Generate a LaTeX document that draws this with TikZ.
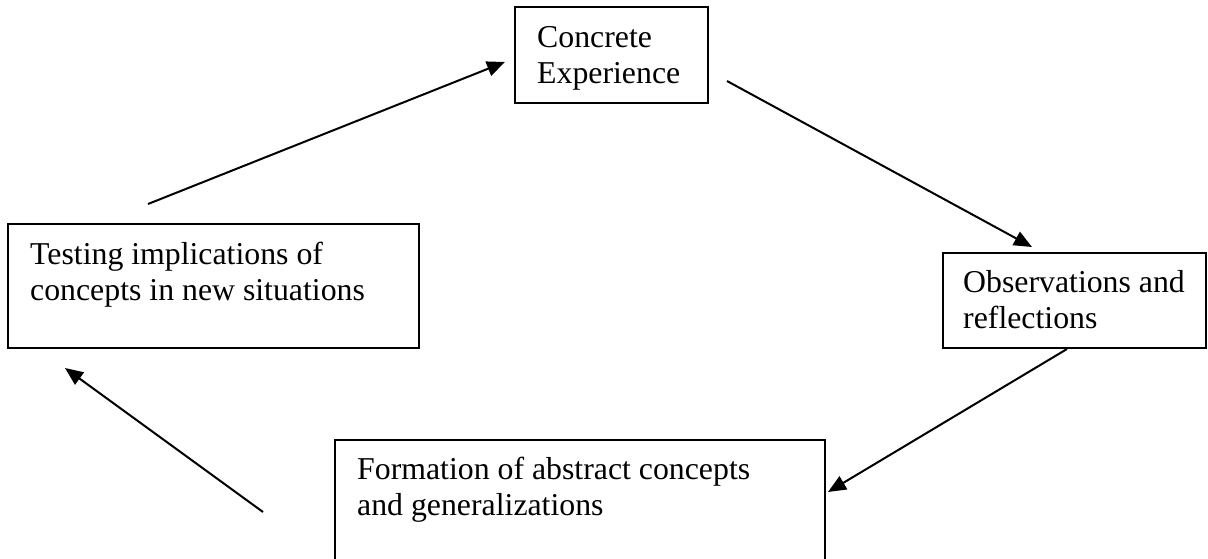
\documentclass[tikz,border=0pt]{standalone}
\usepackage{fontspec}
\setmainfont{Liberation Serif}
\usetikzlibrary{arrows.meta}
\begin{document}
\begin{tikzpicture}[x=1pt,y=-1pt,
  boxstyle/.style={draw=black, line width=2pt, inner sep=0pt},
  txt/.style={anchor=base west, align=left, inner sep=0pt, font=\fontsize{31.8}{35.5}\selectfont},
  arr/.style={line width=2pt, -{Triangle[length=18pt,width=15pt]}}]
\useasboundingbox (0,0) rectangle (1208,558);
% boxes
\draw[boxstyle] (515,7) rectangle (708,103);
\node[boxstyle, draw=none] (ce) at (611.5,55) {};
\draw[boxstyle] (8,224) rectangle (419,348);
\node[boxstyle, draw=none] (ti) at (213.5,286) {};
\draw[boxstyle] (943,253) rectangle (1206,348);
\node[boxstyle, draw=none] (ob) at (1074.5,300) {};
\draw[boxstyle] (335,440) rectangle (825,562);
\node[boxstyle, draw=none] (fo) at (580,500) {};
% texts (anchored at the baseline of the last line)
\node[txt] (cet) at (537,83) {Concrete\\Experience};
\node[txt] (tit) at (30,300) {Testing implications of\\concepts in new situations};
\node[txt] (obt) at (963,328) {Observations and\\reflections};
\node[txt] (fot) at (357,515) {Formation of abstract concepts\\and generalizations};
% arrow ends
\coordinate (a1s) at (148,204);
\coordinate (a1e) at (505,62);
\coordinate (a2s) at (727,81);
\coordinate (a2e) at (1032,247);
\coordinate (a3s) at (1067,349);
\coordinate (a3e) at (828,492);
\coordinate (a4s) at (263,512);
\coordinate (a4e) at (65,368);
\draw[arr] (a1s) -- (a1e);
\draw[arr] (a2s) -- (a2e);
\draw[arr] (a3s) -- (a3e);
\draw[arr] (a4s) -- (a4e);
\end{tikzpicture}
\end{document}
